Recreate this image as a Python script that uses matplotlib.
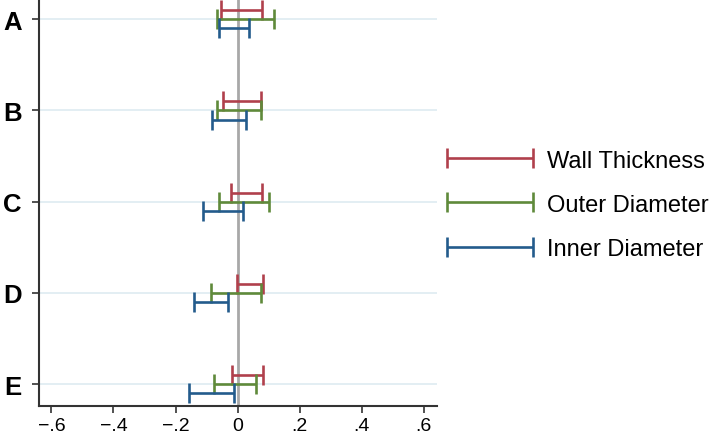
import numpy as np
import matplotlib.pyplot as plt
from matplotlib.legend_handler import HandlerErrorbar

plt.rcParams['font.family'] = ['Liberation Sans', 'DejaVu Sans']

categories = ['A', 'B', 'C', 'D', 'E']
series = ['Wall Thickness', 'Outer Diameter', 'Inner Diameter']
colors = ['#b0404c', '#5f8a3a', '#235b8c']
# lower / upper bounds of each interval
lower = {
    'Wall Thickness': [-0.052, -0.046, -0.021, -0.003, -0.018],
    'Outer Diameter': [-0.067, -0.068, -0.061, -0.085, -0.076],
    'Inner Diameter': [-0.061, -0.084, -0.112, -0.141, -0.156],
}
upper = {
    'Wall Thickness': [0.079, 0.074, 0.079, 0.081, 0.081],
    'Outer Diameter': [0.117, 0.076, 0.101, 0.075, 0.059],
    'Inner Diameter': [0.036, 0.026, 0.018, -0.032, -0.013],
}
offsets = [-0.1, 0.0, 0.1]
xticks = [-0.6, -0.4, -0.2, 0, 0.2, 0.4, 0.6]
xticklabels = ['\u2212.6', '\u2212.4', '\u2212.2', '0', '.2', '.4', '.6']

fig = plt.figure(figsize=[7.09, 4.35], dpi=100)
ax = fig.add_axes([0.055, 0.064, 0.562, 0.936])

ypos = np.arange(1, len(categories) + 1)
for y in ypos:
    ax.axhline(y, color='#e0edf2', lw=1.3, zorder=0)
ax.axvline(0, color='#a8a8a8', lw=2, zorder=1)

handles = []
for name, col, off in zip(series, colors, offsets):
    lo = np.array(lower[name])
    hi = np.array(upper[name])
    mid = (lo + hi) / 2
    h = ax.errorbar(mid, ypos + off, xerr=(hi - lo) / 2, fmt='none',
                    ecolor=col, elinewidth=1.9, capsize=7, capthick=1.9,
                    label=name, zorder=2)
    handles.append(h)

ax.set_xlim(-0.64, 0.644)
ax.set_ylim(5.24, 0.78)
ax.set_yticks(ypos)
ax.set_yticklabels(categories, fontsize=18.5, fontweight='bold')
ax.set_xticks(xticks)
ax.set_xticklabels(xticklabels, fontsize=14)
ax.tick_params(axis='both', length=5, width=1.2, color='#333333')
ax.tick_params(axis='y', pad=7.5)
ax.tick_params(axis='x', pad=2.5)
for s in ['top', 'right']:
    ax.spines[s].set_visible(False)
for s in ['left', 'bottom']:
    ax.spines[s].set_color('#333333')
    ax.spines[s].set_linewidth(1.5)

fig.legend(handles=handles, labels=series, loc='center left',
           bbox_to_anchor=(0.630, 0.527), bbox_transform=fig.transFigure,
           frameon=False, fontsize=17, numpoints=1, handlelength=3.64,
           handletextpad=0.6, labelspacing=0.94, borderpad=0, borderaxespad=0,
           handler_map={type(handles[0]): HandlerErrorbar(xerr_size=1.82)})

plt.savefig('out.png', format='png', dpi=100)
